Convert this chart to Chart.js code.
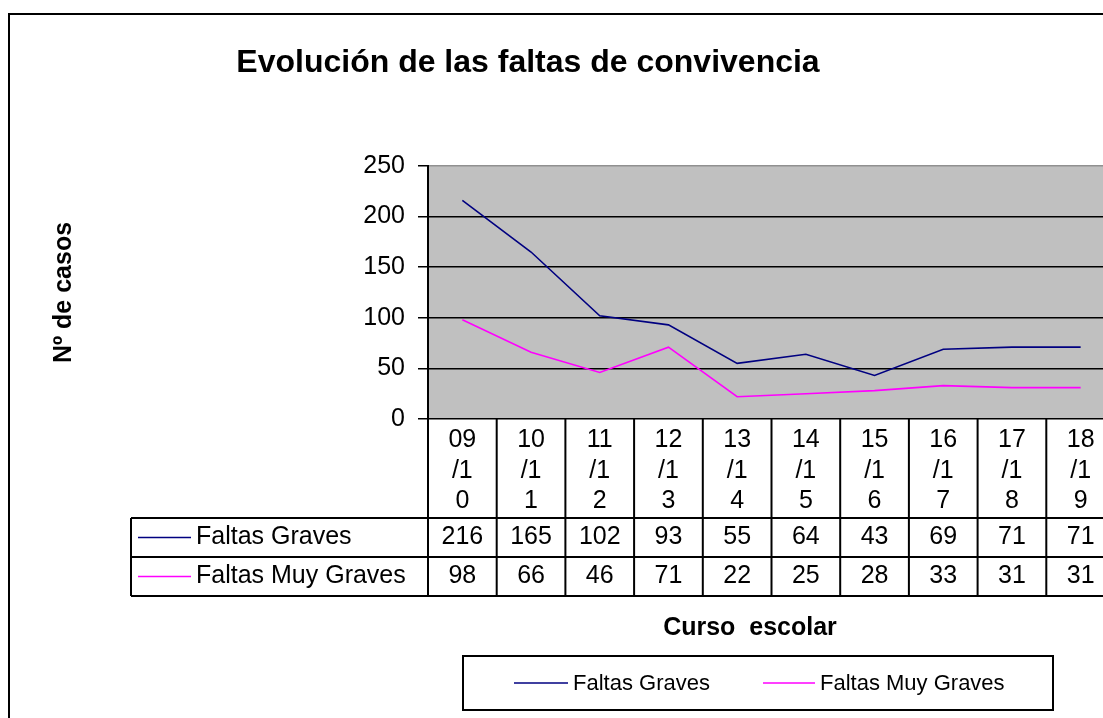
<!DOCTYPE html>
<html lang="es">
<head>
<meta charset="utf-8">
<title>Evolución de las faltas de convivencia</title>
<script src="https://cdn.jsdelivr.net/npm/chart.js@4"></script>
<style>
  html, body { margin: 0; padding: 0; background: #fff; overflow: hidden; }
  #wrap { position: relative; width: 1140px; height: 718px; }
</style>
</head>
<body>
<div id="wrap"><canvas id="faltasChart"></canvas></div>
<script>
// Datos del gráfico
const cursos = ["09/10", "10/11", "11/12", "12/13", "13/14", "14/15", "15/16", "16/17", "17/18", "18/19"];
const faltasGraves = [216, 165, 102, 93, 55, 64, 43, 69, 71, 71];
const faltasMuyGraves = [98, 66, 46, 71, 22, 25, 28, 33, 31, 31];
const series = ["Faltas Graves", "Faltas Muy Graves"];
const coloresSerie = ["#000080", "#FF00FF"];
const ticksY = [0, 50, 100, 150, 200, 250];

const FONT = 'Arial, "Liberation Sans", sans-serif';
Chart.defaults.font.family = FONT;
Chart.defaults.color = "#000";

// Excel partía "09/10" en trozos de dos caracteres
const partir = s => s.match(/.{1,2}/g);

/* ----------------------------------------------------------
   Plugin: fondo gris, tabla de datos, títulos y leyenda
---------------------------------------------------------- */
const excelTabla = {
  id: "excelTabla",
  beforeDraw(chart) {
    const { ctx, chartArea: a } = chart;
    ctx.save();
    ctx.fillStyle = "#C0C0C0";
    ctx.fillRect(a.left, a.top, a.right - a.left, a.bottom - a.top);
    ctx.restore();
  },
  afterDraw(chart) {
    const { ctx, chartArea: a } = chart;
    const xs = chart.scales.x;
    const n = cursos.length;
    const colW = (a.right - a.left) / n;
    const headBottom = xs.bottom;
    const rowH = 39;
    const filas = [faltasGraves, faltasMuyGraves];
    const tablaLeft = 131;

    ctx.save();

    // marco exterior
    ctx.strokeStyle = "#000";
    ctx.lineWidth = 2;
    ctx.strokeRect(9, 14, 1300, 900);

    // título
    ctx.fillStyle = "#000";
    ctx.font = "bold 32px " + FONT;
    ctx.textAlign = "center";
    ctx.textBaseline = "middle";
    ctx.fillText("Evolución de las faltas de convivencia", 528, 63);

    // líneas de la tabla
    ctx.lineWidth = 2;
    ctx.beginPath();
    for (let k = 0; k <= n; k++) {
      const x = a.left + k * colW;
      ctx.moveTo(x, a.bottom);
      ctx.lineTo(x, headBottom + rowH * filas.length);
    }
    ctx.moveTo(tablaLeft, headBottom);
    ctx.lineTo(tablaLeft, headBottom + rowH * filas.length);
    for (let r = 0; r <= filas.length; r++) {
      const y = headBottom + r * rowH;
      ctx.moveTo(tablaLeft, y);
      ctx.lineTo(a.right, y);
    }
    ctx.stroke();

    // filas: clave de serie + valores
    filas.forEach((vals, r) => {
      const yc = headBottom + r * rowH + rowH / 2;
      ctx.strokeStyle = coloresSerie[r];
      ctx.lineWidth = 1.5;
      ctx.beginPath();
      ctx.moveTo(138, yc);
      ctx.lineTo(191, yc);
      ctx.stroke();

      ctx.fillStyle = "#000";
      ctx.font = "25px " + FONT;
      ctx.textAlign = "left";
      ctx.fillText(series[r], 196, yc);

      ctx.textAlign = "center";
      vals.forEach((v, i) => {
        ctx.fillText(String(v), xs.getPixelForValue(i), yc);
      });
    });

    // título eje X
    ctx.font = "bold 25px " + FONT;
    ctx.textAlign = "center";
    ctx.fillText("Curso  escolar", 750, 628);

    // leyenda
    ctx.strokeStyle = "#000";
    ctx.lineWidth = 2;
    ctx.strokeRect(463, 656, 590, 54);
    const leyenda = [
      { x1: 514, x2: 568, tx: 573 },
      { x1: 763, x2: 815, tx: 820 }
    ];
    ctx.font = "22px " + FONT;
    ctx.textAlign = "left";
    leyenda.forEach((it, i) => {
      ctx.strokeStyle = coloresSerie[i];
      ctx.lineWidth = 1.5;
      ctx.beginPath();
      ctx.moveTo(it.x1, 683);
      ctx.lineTo(it.x2, 683);
      ctx.stroke();
      ctx.fillStyle = "#000";
      ctx.fillText(series[i], it.tx, 684);
    });

    ctx.restore();
  }
};

new Chart(document.getElementById("faltasChart"), {
  type: "line",
  data: {
    labels: cursos,
    datasets: [
      {
        label: series[0],
        data: faltasGraves,
        borderColor: coloresSerie[0],
        borderWidth: 1.6,
        pointRadius: 0,
        tension: 0,
        fill: false
      },
      {
        label: series[1],
        data: faltasMuyGraves,
        borderColor: coloresSerie[1],
        borderWidth: 1.6,
        pointRadius: 0,
        tension: 0,
        fill: false
      }
    ]
  },
  options: {
    responsive: true,
    maintainAspectRatio: false,
    animation: false,
    layout: { padding: { left: 0, top: 166, right: 25, bottom: 200 } },
    plugins: {
      legend: { display: false },
      title: { display: false },
      tooltip: { enabled: false }
    },
    scales: {
      x: {
        type: "category",
        offset: true,
        grid: { display: false },
        border: { display: false },
        ticks: {
          autoSkip: false,
          maxRotation: 0,
          minRotation: 0,
          padding: -2,
          color: "#000",
          font: { size: 25, lineHeight: 1.22 },
          callback(value) { return partir(cursos[value]); }
        },
        afterFit(scale) { scale.height = 99; }
      },
      y: {
        min: 0,
        max: ticksY[ticksY.length - 1],
        afterBuildTicks(scale) { scale.ticks = ticksY.map(v => ({ value: v })); },
        grid: {
          color: c => (c.tick && c.tick.value === ticksY[ticksY.length - 1]) ? "#909090" : "#000",
          tickColor: "#000",
          lineWidth: 1.5,
          drawTicks: true,
          tickLength: 10
        },
        border: { display: true, color: "#000", width: 2 },
        ticks: { padding: 13, color: "#000", font: { size: 25 } },
        title: {
          display: true,
          text: "Nº de casos",
          color: "#000",
          font: { size: 25, weight: "bold" },
          padding: { top: 49, bottom: 0 }
        },
        afterFit(scale) { scale.width = 428; }
      }
    }
  },
  plugins: [excelTabla]
});
</script>
</body>
</html>
